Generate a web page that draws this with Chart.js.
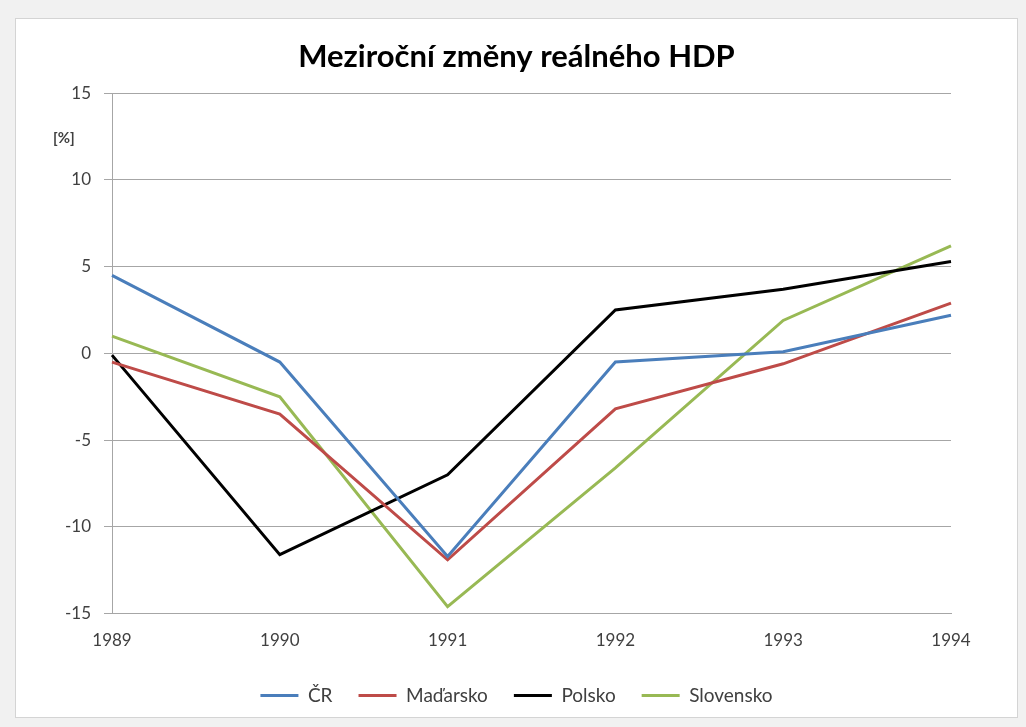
<!DOCTYPE html>
<html>
<head>
<meta charset="utf-8">
<script src="https://cdn.jsdelivr.net/npm/chart.js@4/dist/chart.umd.min.js"></script>
<style>
  html, body { margin: 0; padding: 0; }
  body { width: 1026px; height: 727px; background: #f1f1f1; position: relative; overflow: hidden; }
  #box {
    position: absolute; left: 15px; top: 18px; width: 1001px; height: 698px;
    background: #fff; border: 1px solid #d4d4d4;
  }
  canvas { display: block; }
</style>
</head>
<body>
<div id="box"><canvas id="graf" width="1001" height="698"></canvas></div>
<script>
const roky = ["1989", "1990", "1991", "1992", "1993", "1994"];
const cr = [4.5, -0.5, -11.7, -0.5, 0.1, 2.2];
const madarsko = [-0.5, -3.5, -11.9, -3.2, -0.6, 2.9];
const polsko = [-0.1, -11.6, -7.0, 2.5, 3.7, 5.3];
const slovensko = [1.0, -2.5, -14.6, -6.6, 1.9, 6.2];

const pismo = "Lato, 'Open Sans', sans-serif";
const sedaTextu = "#404040";

// popisek [%] u osy Y
const jednotka = {
  id: "jednotka",
  afterDraw(chart) {
    const ctx = chart.ctx;
    const y = chart.scales.y;
    ctx.save();
    ctx.fillStyle = sedaTextu;
    ctx.font = "bold 15px " + pismo;
    ctx.textAlign = "left";
    ctx.textBaseline = "middle";
    ctx.fillText("[%]", 37, y.getPixelForValue(12.4));
    ctx.restore();
  },
};

const serie = (label, data, barva) => ({
  label,
  data,
  borderColor: barva,
  backgroundColor: barva,
  borderWidth: 3,
});

new Chart(document.getElementById("graf").getContext("2d"), {
  type: "line",
  data: {
    labels: roky,
    datasets: [
      serie("ČR", cr, "#4a7ebb"),
      serie("Maďarsko", madarsko, "#be4b48"),
      serie("Polsko", polsko, "#000000"),
      serie("Slovensko", slovensko, "#98b954"),
    ],
  },
  options: {
    responsive: false,
    animation: false,
    layout: { padding: { left: 0, right: 0, top: 0, bottom: 2 } },
    elements: {
      line: { tension: 0 },
      point: { radius: 0 },
    },
    scales: {
      x: {
        offset: false,
        grid: { display: false, drawOnChartArea: false, tickLength: 8, color: "#a6a6a6" },
        border: { color: "#a6a6a6", width: 1 },
        ticks: { color: sedaTextu, font: { family: pismo, size: 17 }, padding: 9, maxRotation: 0 },
      },
      y: {
        min: -15,
        max: 15,
        afterFit(scale) { scale.width = 96; },
        ticks: { stepSize: 5, color: sedaTextu, font: { family: pismo, size: 17 }, padding: 13 },
        grid: { color: "#a6a6a6", lineWidth: 1, tickLength: 8 },
        border: { color: "#a6a6a6", width: 1 },
      },
      // prázdné místo vpravo, aby nadpis a legenda zůstaly uprostřed
      vpravo: {
        type: "linear",
        position: "right",
        afterFit(scale) { scale.width = 66; },
        grid: { display: false },
        border: { display: false },
        ticks: { display: false },
      },
    },
    plugins: {
      title: {
        display: true,
        text: "Meziroční změny reálného HDP",
        color: "#000",
        font: { family: pismo, size: 31, weight: "bold", lineHeight: 1.2 },
        padding: { top: 19, bottom: 18 },
      },
      legend: {
        position: "bottom",
        labels: {
          usePointStyle: true,
          pointStyle: "line",
          pointStyleWidth: 38,
          boxWidth: 32,
          boxHeight: 19,
          padding: 26,
          color: sedaTextu,
          font: { family: pismo, size: 19 },
        },
      },
      tooltip: { enabled: false },
    },
  },
  plugins: [jednotka],
});
</script>
</body>
</html>
